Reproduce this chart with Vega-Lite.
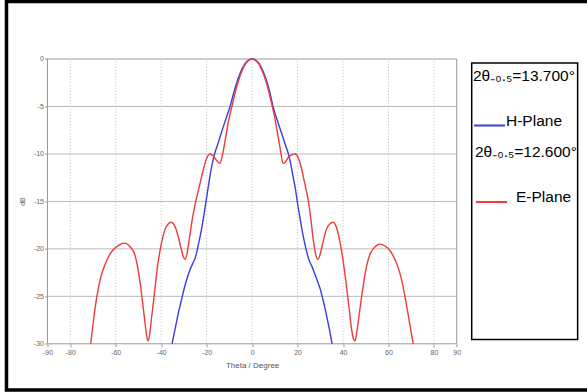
{
  "$schema": "https://vega.github.io/schema/vega-lite/v6.json",
  "width": 580.5,
  "height": 388.5,
  "autosize": {"type": "none"},
  "padding": {"left": 6.5, "top": 1.5, "right": 0, "bottom": 2},
  "background": "white",
  "config": {
    "view": {"stroke": "#000000", "strokeWidth": 3.5, "strokeDash": [580.5, 388.5, 1200]},
    "font": "Liberation Sans"
  },
  "datasets": {
    "hplane": [
      {"theta": -35.2, "db": -30, "plane": "H-Plane"},
      {"theta": -34.1, "db": -28.7, "plane": "H-Plane"},
      {"theta": -33.0, "db": -27.4, "plane": "H-Plane"},
      {"theta": -31.9, "db": -26.2, "plane": "H-Plane"},
      {"theta": -31.0, "db": -25.3, "plane": "H-Plane"},
      {"theta": -30.1, "db": -24.4, "plane": "H-Plane"},
      {"theta": -29.2, "db": -23.6, "plane": "H-Plane"},
      {"theta": -28.2, "db": -22.8, "plane": "H-Plane"},
      {"theta": -27.3, "db": -22.2, "plane": "H-Plane"},
      {"theta": -26.2, "db": -21.6, "plane": "H-Plane"},
      {"theta": -25.1, "db": -21.0, "plane": "H-Plane"},
      {"theta": -24.3, "db": -20.3, "plane": "H-Plane"},
      {"theta": -23.5, "db": -19.4, "plane": "H-Plane"},
      {"theta": -22.7, "db": -18.5, "plane": "H-Plane"},
      {"theta": -22.0, "db": -17.6, "plane": "H-Plane"},
      {"theta": -21.1, "db": -16.3, "plane": "H-Plane"},
      {"theta": -20.2, "db": -14.9, "plane": "H-Plane"},
      {"theta": -19.3, "db": -13.5, "plane": "H-Plane"},
      {"theta": -18.3, "db": -12.0, "plane": "H-Plane"},
      {"theta": -17.4, "db": -10.9, "plane": "H-Plane"},
      {"theta": -16.5, "db": -10.0, "plane": "H-Plane"},
      {"theta": -15.0, "db": -8.9, "plane": "H-Plane"},
      {"theta": -13.3, "db": -7.6, "plane": "H-Plane"},
      {"theta": -11.5, "db": -6.3, "plane": "H-Plane"},
      {"theta": -9.7, "db": -5.0, "plane": "H-Plane"},
      {"theta": -8.0, "db": -3.5, "plane": "H-Plane"},
      {"theta": -6.5, "db": -2.3, "plane": "H-Plane"},
      {"theta": -5.0, "db": -1.35, "plane": "H-Plane"},
      {"theta": -3.5, "db": -0.65, "plane": "H-Plane"},
      {"theta": -2.0, "db": -0.2, "plane": "H-Plane"},
      {"theta": 0, "db": 0, "plane": "H-Plane"},
      {"theta": 2.0, "db": -0.2, "plane": "H-Plane"},
      {"theta": 3.5, "db": -0.65, "plane": "H-Plane"},
      {"theta": 5.0, "db": -1.4, "plane": "H-Plane"},
      {"theta": 6.5, "db": -2.4, "plane": "H-Plane"},
      {"theta": 7.9, "db": -3.6, "plane": "H-Plane"},
      {"theta": 9.2, "db": -5.0, "plane": "H-Plane"},
      {"theta": 11.0, "db": -6.4, "plane": "H-Plane"},
      {"theta": 12.8, "db": -7.7, "plane": "H-Plane"},
      {"theta": 14.6, "db": -9.0, "plane": "H-Plane"},
      {"theta": 16.2, "db": -10.2, "plane": "H-Plane"},
      {"theta": 17.2, "db": -11.3, "plane": "H-Plane"},
      {"theta": 18.1, "db": -12.5, "plane": "H-Plane"},
      {"theta": 19.0, "db": -13.6, "plane": "H-Plane"},
      {"theta": 19.8, "db": -14.9, "plane": "H-Plane"},
      {"theta": 20.6, "db": -16.1, "plane": "H-Plane"},
      {"theta": 21.6, "db": -17.5, "plane": "H-Plane"},
      {"theta": 22.6, "db": -18.8, "plane": "H-Plane"},
      {"theta": 23.7, "db": -20.0, "plane": "H-Plane"},
      {"theta": 24.8, "db": -21.0, "plane": "H-Plane"},
      {"theta": 25.6, "db": -21.5, "plane": "H-Plane"},
      {"theta": 26.4, "db": -21.9, "plane": "H-Plane"},
      {"theta": 27.2, "db": -22.4, "plane": "H-Plane"},
      {"theta": 28.0, "db": -22.9, "plane": "H-Plane"},
      {"theta": 28.9, "db": -23.5, "plane": "H-Plane"},
      {"theta": 29.8, "db": -24.1, "plane": "H-Plane"},
      {"theta": 30.6, "db": -24.8, "plane": "H-Plane"},
      {"theta": 31.4, "db": -25.6, "plane": "H-Plane"},
      {"theta": 32.2, "db": -26.4, "plane": "H-Plane"},
      {"theta": 32.9, "db": -27.2, "plane": "H-Plane"},
      {"theta": 34.1, "db": -28.6, "plane": "H-Plane"},
      {"theta": 35.2, "db": -30, "plane": "H-Plane"}
    ],
    "eplane": [
      {"theta": -71.0, "db": -30, "plane": "E-Plane"},
      {"theta": -69.8, "db": -27.6, "plane": "E-Plane"},
      {"theta": -68.4, "db": -25.2, "plane": "E-Plane"},
      {"theta": -66.6, "db": -23.0, "plane": "E-Plane"},
      {"theta": -64.6, "db": -21.6, "plane": "E-Plane"},
      {"theta": -61.5, "db": -20.2, "plane": "E-Plane"},
      {"theta": -58.6, "db": -19.6, "plane": "E-Plane"},
      {"theta": -56.0, "db": -19.4, "plane": "E-Plane"},
      {"theta": -53.6, "db": -19.8, "plane": "E-Plane"},
      {"theta": -51.6, "db": -20.6, "plane": "E-Plane"},
      {"theta": -50.3, "db": -22.0, "plane": "E-Plane"},
      {"theta": -49.3, "db": -23.5, "plane": "E-Plane"},
      {"theta": -48.4, "db": -25.2, "plane": "E-Plane"},
      {"theta": -47.3, "db": -27.4, "plane": "E-Plane"},
      {"theta": -46.4, "db": -29.1, "plane": "E-Plane"},
      {"theta": -45.8, "db": -29.7, "plane": "E-Plane"},
      {"theta": -45.1, "db": -29.1, "plane": "E-Plane"},
      {"theta": -44.2, "db": -27.2, "plane": "E-Plane"},
      {"theta": -43.1, "db": -25.0, "plane": "E-Plane"},
      {"theta": -41.8, "db": -22.2, "plane": "E-Plane"},
      {"theta": -40.2, "db": -19.8, "plane": "E-Plane"},
      {"theta": -38.4, "db": -18.0, "plane": "E-Plane"},
      {"theta": -37.0, "db": -17.4, "plane": "E-Plane"},
      {"theta": -35.7, "db": -17.2, "plane": "E-Plane"},
      {"theta": -34.0, "db": -17.6, "plane": "E-Plane"},
      {"theta": -32.6, "db": -18.6, "plane": "E-Plane"},
      {"theta": -31.3, "db": -19.9, "plane": "E-Plane"},
      {"theta": -30.3, "db": -20.8, "plane": "E-Plane"},
      {"theta": -29.5, "db": -21.1, "plane": "E-Plane"},
      {"theta": -28.7, "db": -20.6, "plane": "E-Plane"},
      {"theta": -27.7, "db": -19.1, "plane": "E-Plane"},
      {"theta": -26.4, "db": -17.0, "plane": "E-Plane"},
      {"theta": -24.7, "db": -14.9, "plane": "E-Plane"},
      {"theta": -23.0, "db": -13.2, "plane": "E-Plane"},
      {"theta": -21.6, "db": -11.8, "plane": "E-Plane"},
      {"theta": -20.2, "db": -10.6, "plane": "E-Plane"},
      {"theta": -18.6, "db": -10.0, "plane": "E-Plane"},
      {"theta": -17.1, "db": -10.2, "plane": "E-Plane"},
      {"theta": -15.6, "db": -10.7, "plane": "E-Plane"},
      {"theta": -14.2, "db": -11.0, "plane": "E-Plane"},
      {"theta": -13.4, "db": -10.5, "plane": "E-Plane"},
      {"theta": -12.6, "db": -9.6, "plane": "E-Plane"},
      {"theta": -11.8, "db": -8.5, "plane": "E-Plane"},
      {"theta": -10.9, "db": -7.2, "plane": "E-Plane"},
      {"theta": -9.9, "db": -6.0, "plane": "E-Plane"},
      {"theta": -8.9, "db": -5.0, "plane": "E-Plane"},
      {"theta": -7.5, "db": -3.6, "plane": "E-Plane"},
      {"theta": -6.0, "db": -2.3, "plane": "E-Plane"},
      {"theta": -4.5, "db": -1.3, "plane": "E-Plane"},
      {"theta": -3.0, "db": -0.55, "plane": "E-Plane"},
      {"theta": -1.5, "db": -0.14, "plane": "E-Plane"},
      {"theta": 0, "db": 0, "plane": "E-Plane"},
      {"theta": 1.5, "db": -0.14, "plane": "E-Plane"},
      {"theta": 3.0, "db": -0.55, "plane": "E-Plane"},
      {"theta": 4.5, "db": -1.3, "plane": "E-Plane"},
      {"theta": 6.0, "db": -2.3, "plane": "E-Plane"},
      {"theta": 7.4, "db": -3.5, "plane": "E-Plane"},
      {"theta": 8.7, "db": -4.8, "plane": "E-Plane"},
      {"theta": 9.8, "db": -6.0, "plane": "E-Plane"},
      {"theta": 10.8, "db": -7.3, "plane": "E-Plane"},
      {"theta": 11.7, "db": -8.5, "plane": "E-Plane"},
      {"theta": 12.6, "db": -9.8, "plane": "E-Plane"},
      {"theta": 13.6, "db": -11.0, "plane": "E-Plane"},
      {"theta": 14.5, "db": -10.9, "plane": "E-Plane"},
      {"theta": 15.8, "db": -10.4, "plane": "E-Plane"},
      {"theta": 17.3, "db": -10.1, "plane": "E-Plane"},
      {"theta": 18.9, "db": -10.0, "plane": "E-Plane"},
      {"theta": 20.3, "db": -10.4, "plane": "E-Plane"},
      {"theta": 21.5, "db": -11.3, "plane": "E-Plane"},
      {"theta": 22.7, "db": -12.6, "plane": "E-Plane"},
      {"theta": 23.8, "db": -13.8, "plane": "E-Plane"},
      {"theta": 24.8, "db": -15.0, "plane": "E-Plane"},
      {"theta": 25.9, "db": -17.0, "plane": "E-Plane"},
      {"theta": 26.9, "db": -19.0, "plane": "E-Plane"},
      {"theta": 28.0, "db": -20.6, "plane": "E-Plane"},
      {"theta": 29.0, "db": -21.1, "plane": "E-Plane"},
      {"theta": 29.9, "db": -20.6, "plane": "E-Plane"},
      {"theta": 31.0, "db": -19.5, "plane": "E-Plane"},
      {"theta": 32.2, "db": -18.3, "plane": "E-Plane"},
      {"theta": 33.7, "db": -17.5, "plane": "E-Plane"},
      {"theta": 35.6, "db": -17.2, "plane": "E-Plane"},
      {"theta": 37.2, "db": -17.8, "plane": "E-Plane"},
      {"theta": 38.5, "db": -19.1, "plane": "E-Plane"},
      {"theta": 40.0, "db": -21.2, "plane": "E-Plane"},
      {"theta": 41.4, "db": -23.7, "plane": "E-Plane"},
      {"theta": 42.6, "db": -26.1, "plane": "E-Plane"},
      {"theta": 43.6, "db": -28.2, "plane": "E-Plane"},
      {"theta": 44.6, "db": -29.5, "plane": "E-Plane"},
      {"theta": 45.3, "db": -29.7, "plane": "E-Plane"},
      {"theta": 46.2, "db": -28.5, "plane": "E-Plane"},
      {"theta": 47.4, "db": -26.4, "plane": "E-Plane"},
      {"theta": 48.8, "db": -24.0, "plane": "E-Plane"},
      {"theta": 50.3, "db": -21.9, "plane": "E-Plane"},
      {"theta": 51.8, "db": -20.6, "plane": "E-Plane"},
      {"theta": 53.3, "db": -20.0, "plane": "E-Plane"},
      {"theta": 55.0, "db": -19.6, "plane": "E-Plane"},
      {"theta": 56.3, "db": -19.5, "plane": "E-Plane"},
      {"theta": 58.5, "db": -19.7, "plane": "E-Plane"},
      {"theta": 60.7, "db": -20.2, "plane": "E-Plane"},
      {"theta": 62.6, "db": -21.0, "plane": "E-Plane"},
      {"theta": 64.3, "db": -22.0, "plane": "E-Plane"},
      {"theta": 65.9, "db": -23.4, "plane": "E-Plane"},
      {"theta": 67.3, "db": -25.1, "plane": "E-Plane"},
      {"theta": 68.7, "db": -27.0, "plane": "E-Plane"},
      {"theta": 69.9, "db": -28.7, "plane": "E-Plane"},
      {"theta": 70.9, "db": -30, "plane": "E-Plane"}
    ],
    "vgrid": [{"t": -80}, {"t": -60}, {"t": -40}, {"t": -20}, {"t": 0}, {"t": 20}, {"t": 40}, {"t": 60}, {"t": 80}],
    "hgrid": [{"d": -5}, {"d": -10}, {"d": -15}, {"d": -20}, {"d": -25}]
  },
  "encoding": {
    "x": {
      "type": "quantitative",
      "scale": {"domain": [-108.04, 147.32], "nice": false, "zero": false},
      "axis": {
        "orient": "bottom", "offset": -46.2, "domain": false, "grid": false,
        "values": [-90, -80, -60, -40, -20, 0, 20, 40, 60, 80, 90],
        "labelExpr": "replace(datum.label, '−', '-')",
        "tickSize": 3, "tickColor": "#999999", "labelFontSize": 7, "labelColor": "#666666",
        "labelPadding": 2, "labelFlush": false, "labelOverlap": false,
        "title": "Theta / Degree", "titleFontSize": 8, "titleFontWeight": "normal", "titleColor": "#555555",
        "titleX": 245.6, "titleY": 22, "titleBaseline": "middle", "titleAlign": "center"
      }
    },
    "y": {
      "type": "quantitative",
      "scale": {"domain": [-34.868, 6.057], "nice": false, "zero": false},
      "axis": {
        "orient": "left", "offset": -41, "domain": false, "grid": false,
        "values": [0, -5, -10, -15, -20, -25, -30],
        "labelExpr": "replace(datum.label, '−', '-')",
        "tickSize": 3, "tickColor": "#999999", "labelFontSize": 7, "labelColor": "#666666",
        "labelPadding": 1, "labelFlush": false, "labelOverlap": false,
        "title": "dB", "titleFontSize": 7, "titleFontWeight": "normal", "titleColor": "#666666",
        "titleX": -25.5, "titleY": 199.5, "titleAngle": -90, "titleBaseline": "middle", "titleAlign": "center"
      }
    }
  },
  "layer": [
    {
      "data": {"name": "vgrid"},
      "mark": {"type": "rule", "color": "#bdbdbd", "strokeWidth": 1, "strokeDash": [1, 2]},
      "encoding": {"x": {"field": "t"}, "y": {"datum": -30}, "y2": {"datum": 0}}
    },
    {
      "data": {"name": "hgrid"},
      "mark": {"type": "rule", "color": "#bbbbbb", "strokeWidth": 1},
      "encoding": {"y": {"field": "d"}, "x": {"datum": -90}, "x2": {"datum": 90}}
    },
    {
      "data": {"values": [{}]},
      "mark": {"type": "rect", "fill": null, "fillOpacity": 0, "stroke": "#9a9a9a", "strokeWidth": 1},
      "encoding": {"x": {"datum": -90}, "x2": {"datum": 90}, "y": {"datum": -30}, "y2": {"datum": 0}}
    },
    {
      "data": {"values": [{}]},
      "mark": {"type": "rect", "fill": "white", "stroke": "#000000", "strokeWidth": 1.5},
      "encoding": {"x": {"datum": 96.6}, "x2": {"datum": 143.2}, "y": {"datum": -0.42}, "y2": {"datum": -29.56}}
    },
    {
      "data": {"name": "hplane"},
      "mark": {"type": "line", "interpolate": "monotone", "strokeWidth": 1.4},
      "encoding": {
        "x": {"field": "theta"},
        "y": {"field": "db"},
        "color": {
          "field": "plane", "type": "nominal",
          "scale": {"domain": ["H-Plane"], "range": ["#3c3ce0"]},
          "legend": {
            "orient": "none", "legendX": 466.5, "legendY": 67, "padding": 0,
            "title": "2θ₋₀.₅=13.700°", "titleFontSize": 15.5, "titleFontWeight": "normal",
            "titleColor": "#000000", "titleFont": "Liberation Sans", "titlePadding": 25,
            "symbolType": "stroke", "symbolSize": 961, "symbolStrokeWidth": 2, "symbolStrokeColor": "#0000cc",
            "labelFontSize": 15.5, "labelColor": "#000000", "labelFont": "Liberation Sans",
            "labelOffset": 0, "labelBaseline": "alphabetic"
          }
        }
      }
    },
    {
      "data": {"name": "eplane"},
      "mark": {"type": "line", "interpolate": "monotone", "strokeWidth": 1.4},
      "encoding": {
        "x": {"field": "theta"},
        "y": {"field": "db"},
        "stroke": {
          "field": "plane", "type": "nominal",
          "scale": {"domain": ["E-Plane"], "range": ["#ec3c3c"]},
          "legend": {
            "orient": "none", "legendX": 468.5, "legendY": 143.5, "padding": 0,
            "title": "2θ₋₀.₅=12.600°", "titleFontSize": 15.5, "titleFontWeight": "normal",
            "titleColor": "#000000", "titleFont": "Liberation Sans", "titlePadding": 25,
            "symbolType": "stroke", "symbolSize": 961, "symbolStrokeWidth": 2, "symbolStrokeColor": "#ff0000",
            "labelFontSize": 15.5, "labelColor": "#000000", "labelFont": "Liberation Sans",
            "labelOffset": 8, "labelBaseline": "alphabetic"
          }
        }
      }
    }
  ]
}
